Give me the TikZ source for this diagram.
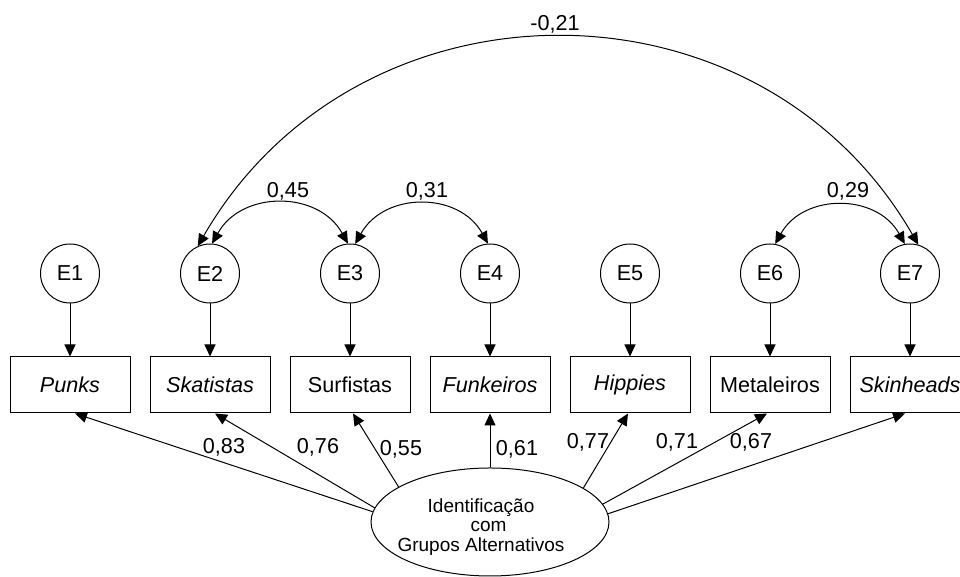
\documentclass[tikz,border=0pt]{standalone}
\usepackage{fontspec}
\setmainfont{Liberation Sans}
\usetikzlibrary{arrows.meta,shapes.geometric}
\begin{document}
\begin{tikzpicture}[x=0.5pt,y=0.5pt,
  every node/.style={font=\fontsize{10.8}{13}\selectfont},
  errc/.style={draw,line width=0.5pt,circle,minimum size=29.5pt,inner sep=0pt},
  obs/.style={draw,line width=0.5pt,rectangle,minimum width=60pt,minimum height=28pt,inner sep=0pt},
  lat/.style={draw,line width=0.5pt,ellipse,minimum width=119pt,minimum height=54pt,inner sep=0pt},
  arr/.style={line width=0.5pt,-{Triangle[length=6pt,width=5.5pt]}},
  cov/.style={line width=0.5pt,{Triangle[length=6pt,width=5.5pt]}-{Triangle[length=6pt,width=5.5pt]}},
  lbl/.style={inner sep=0pt}]
\useasboundingbox (0,0) rectangle (960,577);
% error terms
\node[errc] (e1) at (70,303.5) {E1};
\node[errc] (e2) at (210,303.5) {E2};
\node[errc] (e3) at (350,303.5) {E3};
\node[errc] (e4) at (490,303.5) {E4};
\node[errc] (e5) at (630,303.5) {E5};
\node[errc] (e6) at (770,303.5) {E6};
\node[errc] (e7) at (910,303.5) {E7};
% observed
\node[obs] (b1) at (70,192) {\itshape Punks};
\node[obs] (b2) at (210,192) {\itshape Skatistas};
\node[obs] (b3) at (350,192) {Surfistas};
\node[obs] (b4) at (490,192) {\itshape Funkeiros};
\node[obs] (b5) at (630,192) {\itshape Hippies};
\node[obs] (b6) at (770,192) {Metaleiros};
\node[obs] (b7) at (910,192) {\itshape Skinheads};
% latent
\node[lat] (ell) at (490,55) {};
\node[inner sep=0pt,align=center,font=\fontsize{9.5}{9.8}\selectfont] (elltxt) at (481,50) {Identificação\\\hspace*{0.8em}com\\Grupos Alternativos};
% error arrows
\foreach \i in {1,...,7}{\draw[arr] (e\i.south) -- (b\i.north);}
% loadings
\draw[arr] (ell.175.6) -- ([xshift=2.5pt]b1.south);
\draw[arr] (ell.173.4) -- ([xshift=2.5pt]b2.south);
\draw[arr] (ell.159.7) -- ([xshift=1.5pt]b3.south);
\draw[arr] (ell.north) -- (b4.south);
\draw[arr] (ell.20) -- ([xshift=-1pt]b5.south);
\draw[arr] (ell.9.4) -- ([xshift=-1.5pt]b6.south);
\draw[arr] (ell.4.4) -- ([xshift=-2.5pt]b7.south);
\node[lbl] (l1) at (224,130) {0,83};
\node[lbl] (l2) at (318,130) {0,76};
\node[lbl] (l3) at (401,128) {0,55};
\node[lbl] (l4) at (517,128) {0,61};
\node[lbl] (l5) at (588,135) {0,77};
\node[lbl] (l6) at (677,135) {0,71};
\node[lbl] (l7) at (751,135) {0,67};
% covariances
\draw[cov] (e2.86) to[out=61,in=119,looseness=1.15] (e3.94);
\draw[cov] (e3.80) to[out=61,in=119,looseness=1.15] (e4.94);
\draw[cov] (e6.80) to[out=61,in=119,looseness=1.15] (e7.100);
\draw[cov] (e2.114) to[out=60,in=120,looseness=1.133] (e7.74);
\node[lbl] (c1) at (288,386) {0,45};
\node[lbl] (c2) at (427,386) {0,31};
\node[lbl] (c3) at (848,386) {0,29};
\node[lbl] (c4) at (555,553) {-0,21};
\end{tikzpicture}
\end{document}
